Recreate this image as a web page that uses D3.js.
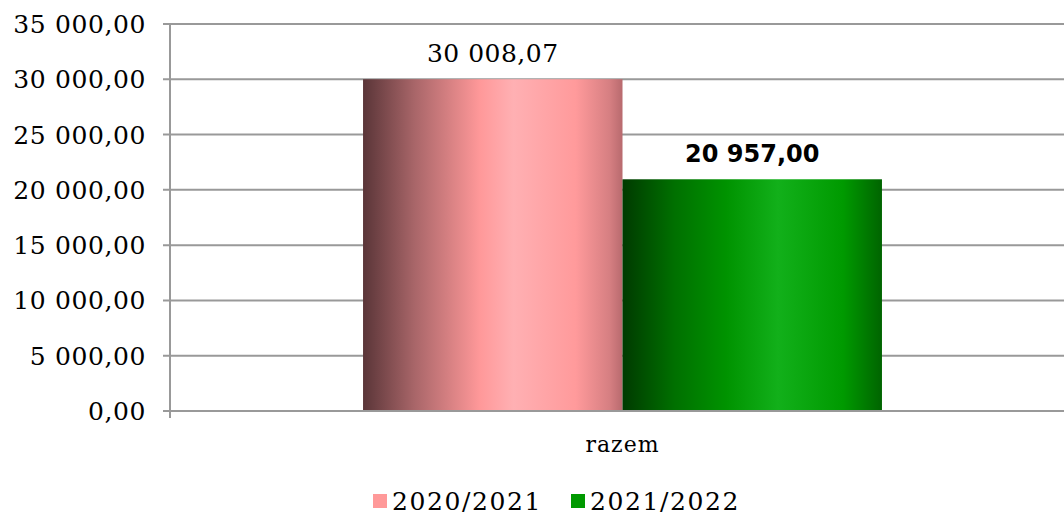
<!DOCTYPE html>
<html>
<head>
<meta charset="utf-8">
<script src="https://cdn.jsdelivr.net/npm/d3@7"></script>
<style>
  body { margin: 0; background: #fff; }
  svg { display: block; }
</style>
</head>
<body>
<svg id="chart"></svg>
<script>
const width = 1064, height = 515;
const margin = {top: 24, right: -11, bottom: 104, left: 170};

let categories = ["razem"];
let seriesNames = ["2020/2021", "2021/2022"];
let seriesValues = [30008.07, 20957.00];
let valueLabels = ["30 008,07", "20 957,00"];
let yTicks = [0, 5000, 10000, 15000, 20000, 25000, 30000, 35000];

let svg = d3.select("#chart")
            .attr("width", width)
            .attr("height", height);

let INNER_HEIGHT = height - margin.top - margin.bottom;

// gradients for the cylinder-ish bars
let defs = svg.append("defs");
let gradStops = [
    [[0, "#5a3538"], [0.2, "#a96669"], [0.45, "#ff9899"], [0.58, "#ffb0b3"], [0.82, "#ff9a9b"], [0.95, "#d67f82"], [1, "#b86a6e"]],
    [[0, "#003a00"], [0.2, "#007000"], [0.4, "#009300"], [0.6, "#12b01a"], [0.85, "#009a00"], [1, "#006400"]]
];
gradStops.forEach((stops, i) => {
    let g = defs.append("linearGradient")
        .attr("id", "grad" + i)
        .attr("x1", "0%").attr("x2", "100%")
        .attr("y1", "0%").attr("y2", "0%");
    stops.forEach(s => g.append("stop").attr("offset", s[0]).attr("stop-color", s[1]));
});
let legendColors = ["#ff9999", "#009900"];

let x = d3.scaleBand().domain(categories)
    .range([margin.left, width - margin.right])
    .paddingInner(0).paddingOuter(0.372);
let xs = d3.scaleBand().domain(seriesNames).range([0, x.bandwidth()]);
let y = d3.scaleLinear().domain([0, 35000]).range([margin.top + INNER_HEIGHT, margin.top]);

let fmt = v => d3.format(",.2f")(v).replace(/,/g, " ").replace(".", ",");

// grid
svg.append("g")
    .selectAll("line")
    .data(yTicks)
    .join("line")
    .attr("x1", margin.left - 7)
    .attr("x2", width)
    .attr("y1", d => y(d))
    .attr("y2", d => y(d))
    .style("stroke", "#999")
    .style("stroke-width", 2);

// y axis line
svg.append("line")
    .attr("x1", margin.left).attr("x2", margin.left)
    .attr("y1", y(35000)).attr("y2", y(0) + 7)
    .style("stroke", "#999").style("stroke-width", 2);

// y tick labels
svg.append("g")
    .selectAll("text")
    .data(yTicks)
    .join("text")
    .attr("x", 146)
    .attr("y", d => y(d) + 9)
    .attr("text-anchor", "end")
    .style("font-family", "DejaVu Serif")
    .style("font-size", "25px")
    .style("letter-spacing", "0.6px")
    .style("fill", "#000")
    .text(fmt);

// bars
let bars = svg.append("g");
seriesNames.forEach((s, i) => {
    bars.append("rect")
        .attr("x", x(categories[0]) + xs(s))
        .attr("y", y(seriesValues[i]))
        .attr("width", xs.bandwidth())
        .attr("height", y(0) - y(seriesValues[i]))
        .style("fill", `url(#grad${i})`);
});

// redraw baseline over bars
svg.append("line")
    .attr("x1", margin.left - 7).attr("x2", width)
    .attr("y1", y(0)).attr("y2", y(0))
    .style("stroke", "#999").style("stroke-width", 2);

// value labels
svg.append("text")
    .attr("x", x(categories[0]) + xs(seriesNames[0]) + xs.bandwidth() / 2)
    .attr("y", y(seriesValues[0]) - 17)
    .attr("text-anchor", "middle")
    .style("font-family", "DejaVu Serif")
    .style("font-size", "25px")
    .style("letter-spacing", "0.5px")
    .text(valueLabels[0]);

svg.append("text")
    .attr("x", x(categories[0]) + xs(seriesNames[1]) + xs.bandwidth() / 2)
    .attr("y", y(seriesValues[1]) - 17)
    .attr("text-anchor", "middle")
    .style("font-family", "DejaVu Sans")
    .style("font-weight", "bold")
    .style("font-size", "24px")
    .text(valueLabels[1]);

// category label
svg.append("text")
    .attr("x", x(categories[0]) + x.bandwidth() / 2)
    .attr("y", 452)
    .attr("text-anchor", "middle")
    .style("font-family", "DejaVu Serif")
    .style("font-size", "22px")
    .style("letter-spacing", "1px")
    .text(categories[0]);

// legend
let legendX = [373, 571];
seriesNames.forEach((s, i) => {
    svg.append("rect")
        .attr("x", legendX[i]).attr("y", 494)
        .attr("width", 14).attr("height", 14)
        .style("fill", legendColors[i]);
    svg.append("text")
        .attr("x", legendX[i] + 19)
        .attr("y", 510)
        .style("font-family", "DejaVu Serif")
        .style("font-size", "25px")
        .style("letter-spacing", "1.6px")
        .text(s);
});
</script>
</body>
</html>
